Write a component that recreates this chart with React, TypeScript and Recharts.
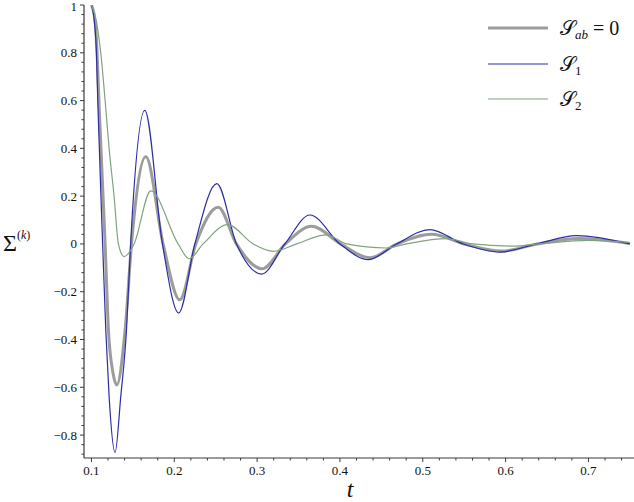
import React from 'react';
import { LineChart, Line, XAxis, YAxis } from 'recharts';

// Series S_ab = 0 (thick grey)
const sabT = [0.1, 0.1045, 0.1068, 0.109, 0.1165, 0.1205, 0.126, 0.1306, 0.1406, 0.1487, 0.1656, 0.1865, 0.2066, 0.226, 0.253, 0.275, 0.306, 0.334, 0.3657, 0.401, 0.436, 0.469, 0.5106, 0.55, 0.595, 0.638, 0.688, 0.75];
const sabV = [1.0, 0.93, 0.8, 0.6, 0.0, -0.36, -0.54, -0.59, -0.36, 0.015, 0.365, 0.0, -0.234, 0.0, 0.154, 0.0, -0.104, 0.0, 0.074, 0.0, -0.058, 0.0, 0.04, 0.0, -0.03, 0.0, 0.023, 0.002];

// Series S_1 (blue)
const s1T = [0.1, 0.1035, 0.106, 0.1076, 0.1135, 0.1173, 0.1213, 0.1285, 0.1354, 0.1423, 0.1475, 0.1644, 0.1857, 0.2054, 0.2248, 0.2514, 0.2751, 0.3053, 0.3335, 0.3637, 0.4, 0.434, 0.4684, 0.5086, 0.5488, 0.5931, 0.6375, 0.6858, 0.75];
const s1V = [1.0, 0.93, 0.8, 0.6, 0.0, -0.36, -0.638, -0.873, -0.638, -0.36, 0.015, 0.559, 0.0, -0.289, 0.0, 0.252, 0.0, -0.126, 0.0, 0.121, 0.0, -0.066, 0.0, 0.06, 0.0, -0.034, 0.0, 0.035, 0.0];

// Series S_2 (green)
const s2T = [0.1, 0.106, 0.1112, 0.1165, 0.1213, 0.1273, 0.1325, 0.1394, 0.1515, 0.1716, 0.2046, 0.2179, 0.2348, 0.2643, 0.2952, 0.3193, 0.3476, 0.3838, 0.408, 0.4563, 0.48, 0.5287, 0.56, 0.609, 0.64, 0.7, 0.75];
const s2V = [1.0, 0.93, 0.8, 0.6, 0.4, 0.2, 0.0, -0.053, 0.0, 0.222, 0.0, -0.062, 0.0, 0.081, 0.0, -0.031, 0.0, 0.038, 0.0, -0.017, 0.0, 0.022, 0.0, -0.009, 0.0, 0.015, 0.006];

const X_MAJOR = [0.1, 0.2, 0.3, 0.4, 0.5, 0.6, 0.7];
const X_LABELS = ['0.1', '0.2', '0.3', '0.4', '0.5', '0.6', '0.7'];
const Y_MAJOR = [-0.8, -0.6, -0.4, -0.2, 0, 0.2, 0.4, 0.6, 0.8, 1];
const Y_LABELS = ['\u22120.8', '\u22120.6', '\u22120.4', '\u22120.2', '0', '0.2', '0.4', '0.6', '0.8', '1'];

const X_DOMAIN = [0.091, 0.755];
const Y_DOMAIN = [-0.896, 1.0];

const zip = (ts: number[], vs: number[]) => ts.map((t, i) => ({ t, v: vs[i] }));
const sabData = zip(sabT, sabV);
const s1Data = zip(s1T, s1V);
const s2Data = zip(s2T, s2V);

const xTicks: number[] = [];
for (let i = 0; i <= 32; i++) xTicks.push(Math.round((0.1 + i * 0.02) * 1000) / 1000);
const yTicks: number[] = [];
for (let i = 0; i <= 47; i++) yTicks.push(Math.round((-0.88 + i * 0.04) * 1000) / 1000);

const AXIS = '#3a3a3a';
const FONT = 'Liberation Serif, DejaVu Serif, serif';
const GREY = '#9c9c9c';
const BLUE = '#2c2ca6';
const GREEN = '#7fa37f';

const findMajor = (arr: number[], v: number) => arr.findIndex((m) => Math.abs(m - v) < 1e-6);

const XTick = (props: any) => {
  const { x, y, payload } = props;
  const idx = findMajor(X_MAJOR, payload.value);
  const major = idx >= 0;
  return (
    <g>
      <line x1={x} x2={x} y1={y} y2={y + (major ? 4 : 2.5)} stroke={AXIS} strokeWidth={1} />
      {major && (
        <text x={x} y={y + 17} textAnchor="middle" fontFamily={FONT} fontSize={13} fill="#111">
          {X_LABELS[idx]}
        </text>
      )}
    </g>
  );
};

const YTick = (props: any) => {
  const { x, y, payload } = props;
  const idx = findMajor(Y_MAJOR, payload.value);
  const major = idx >= 0;
  return (
    <g>
      <line x1={x} x2={x - (major ? 4 : 2.5)} y1={y} y2={y} stroke={AXIS} strokeWidth={1} />
      {major && (
        <text x={x - 7} y={Math.max(y + 4.5, 11)} textAnchor="end" fontFamily={FONT} fontSize={13} fill="#111">
          {Y_LABELS[idx]}
        </text>
      )}
    </g>
  );
};

const LegendBox = () => (
  <svg width={154} height={120} style={{ position: 'absolute', left: 480, top: 0, display: 'block' }}>
    <line x1={8} x2={68} y1={28} y2={28} stroke={GREY} strokeWidth={3} />
    <line x1={8} x2={68} y1={64} y2={64} stroke={BLUE} strokeWidth={1.2} />
    <line x1={8} x2={68} y1={99} y2={99} stroke={GREEN} strokeWidth={1.2} />
    <text x={80} y={35} fontFamily={FONT} fontSize={20} fill="#111">
      <tspan>{'\u{1D4AE}'}</tspan>
      <tspan fontSize={13} fontStyle="italic" dy={4}>ab</tspan>
      <tspan dy={-4}> = 0</tspan>
    </text>
    <text x={80} y={71} fontFamily={FONT} fontSize={20} fill="#111">
      <tspan>{'\u{1D4AE}'}</tspan>
      <tspan fontSize={13} dy={4}>1</tspan>
    </text>
    <text x={80} y={106} fontFamily={FONT} fontSize={20} fill="#111">
      <tspan>{'\u{1D4AE}'}</tspan>
      <tspan fontSize={13} dy={4}>2</tspan>
    </text>
  </svg>
);

const YLabel = () => (
  <text x={3} y={251} fontFamily={FONT} fontSize={24} fill="#111">
    <tspan>{'\u03A3'}</tspan>
    <tspan fontSize={12} dy={-12}>(</tspan>
    <tspan fontSize={12} fontStyle="italic">k</tspan>
    <tspan fontSize={12}>)</tspan>
  </text>
);

const XLabel = () => (
  <text x={350} y={497} textAnchor="middle" fontFamily={FONT} fontSize={24} fontStyle="italic" fill="#111">
    t
  </text>
);

export default function App() {
  return (
    <div style={{ position: 'absolute', left: 0, top: 0, width: 634, height: 502, background: '#fff' }}>
      <LineChart width={634} height={502} margin={{ top: 5, right: 0, bottom: 0, left: 0 }}>
        <XAxis
          dataKey="t"
          type="number"
          domain={X_DOMAIN}
          ticks={xTicks}
          interval={0}
          allowDataOverflow
          tickSize={0}
          tickMargin={0}
          tick={<XTick />}
          height={44}
          axisLine={{ stroke: AXIS, strokeWidth: 1.2 }}
          tickLine={false}
          label={<XLabel />}
        />
        <YAxis
          type="number"
          domain={Y_DOMAIN}
          ticks={yTicks}
          interval={0}
          allowDataOverflow
          tickSize={0}
          tickMargin={0}
          tick={<YTick />}
          width={84}
          axisLine={{ stroke: AXIS, strokeWidth: 1.2 }}
          tickLine={false}
          label={<YLabel />}
        />
        <Line data={sabData} dataKey="v" type="monotone" stroke={GREY} strokeWidth={3} dot={false} isAnimationActive={false} />
        <Line data={s1Data} dataKey="v" type="monotone" stroke={BLUE} strokeWidth={1.2} dot={false} isAnimationActive={false} />
        <Line data={s2Data} dataKey="v" type="monotone" stroke={GREEN} strokeWidth={1.2} dot={false} isAnimationActive={false} />
      </LineChart>
      <LegendBox />
    </div>
  );
}
